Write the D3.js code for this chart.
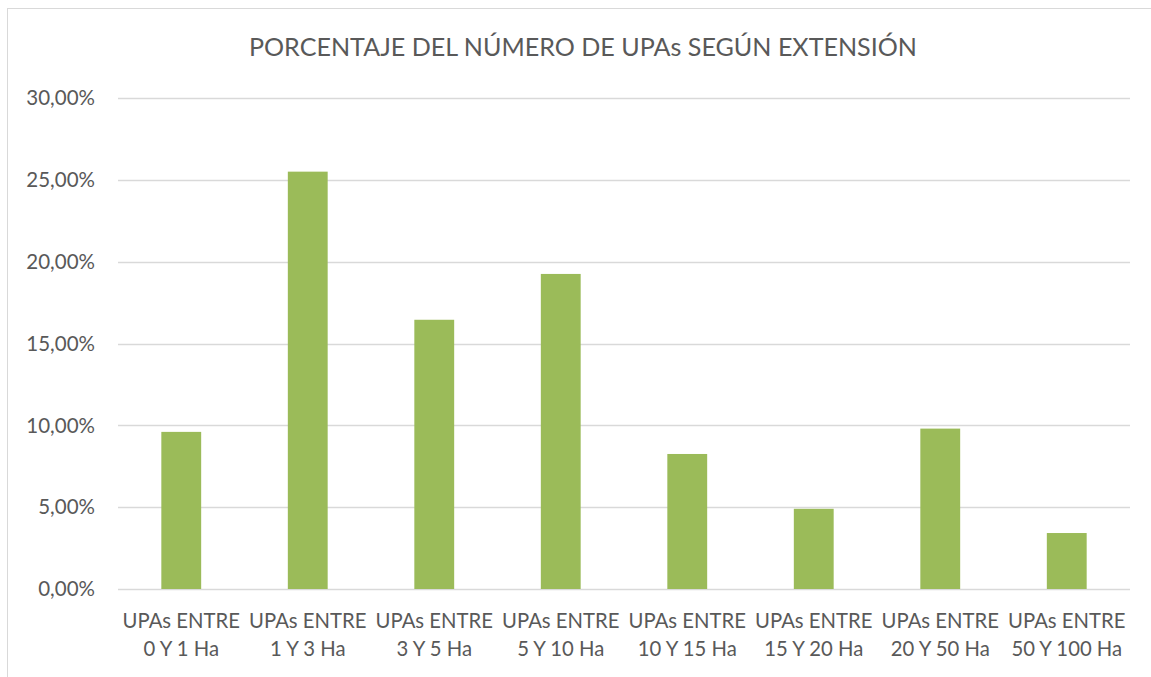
<!DOCTYPE html>
<html>
<head>
<meta charset="utf-8">
<script src="https://cdn.jsdelivr.net/npm/d3@7"></script>
<style>
  body { margin: 0; background: #fff; }
  svg text { font-family: Lato, "Open Sans", sans-serif; fill: #595959; }
</style>
</head>
<body>
<svg id="chart"></svg>
<script>
// Data
const categories = [
  ['UPAs ENTRE', '0 Y 1 Ha'],
  ['UPAs ENTRE', '1 Y 3 Ha'],
  ['UPAs ENTRE', '3 Y 5 Ha'],
  ['UPAs ENTRE', '5 Y 10 Ha'],
  ['UPAs ENTRE', '10 Y 15 Ha'],
  ['UPAs ENTRE', '15 Y 20 Ha'],
  ['UPAs ENTRE', '20 Y 50 Ha'],
  ['UPAs ENTRE', '50 Y 100 Ha']
];
const values = [9.6, 25.5, 16.45, 19.25, 8.25, 4.9, 9.8, 3.42];
const yTicks = [0, 5, 10, 15, 20, 25, 30];
const title = 'PORCENTAJE DEL NÚMERO DE UPAs SEGÚN EXTENSIÓN';

// Dimensions
const width = 1151;
const height = 677;
const margin = { top: 98, right: 21, bottom: 88, left: 118 };

const svg = d3.select('#chart')
    .attr('width', width)
    .attr('height', height);

// Chart frame
svg.append('rect')
    .attr('x', 7.5)
    .attr('y', 8.5)
    .attr('width', width + 20)
    .attr('height', height + 20)
    .attr('fill', 'none')
    .attr('stroke', '#d9d9d9')
    .attr('stroke-width', 1);

// Scales
const x = d3.scaleBand()
    .domain(d3.range(categories.length))
    .range([margin.left, width - margin.right])
    .paddingInner(0.685)
    .paddingOuter(0.3425);

const y = d3.scaleLinear()
    .domain([0, 30])
    .range([height - margin.bottom, margin.top]);

// Gridlines
svg.append('g')
    .selectAll('line')
    .data(yTicks)
    .enter()
    .append('line')
    .attr('x1', margin.left)
    .attr('x2', width - margin.right)
    .attr('y1', d => Math.round(y(d)) + 0.5)
    .attr('y2', d => Math.round(y(d)) + 0.5)
    .attr('stroke', '#d9d9d9')
    .attr('stroke-width', 1.5);

// Y axis labels
const fmt = d => d3.format('.2f')(d).replace('.', ',') + '%';
svg.append('g')
    .selectAll('text')
    .data(yTicks)
    .enter()
    .append('text')
    .attr('x', 95)
    .attr('y', d => y(d))
    .attr('dy', '0.35em')
    .attr('text-anchor', 'end')
    .style('font-size', '20.5px')
    .text(fmt);

// Bars
svg.append('g')
    .selectAll('rect')
    .data(values)
    .enter()
    .append('rect')
    .attr('x', (d, i) => x(i))
    .attr('width', x.bandwidth())
    .attr('y', d => y(d))
    .attr('height', d => y(0) - y(d))
    .attr('fill', '#9bbb59');

// X axis labels
const xLabels = svg.append('g')
    .selectAll('text')
    .data(categories)
    .enter()
    .append('text')
    .attr('text-anchor', 'middle')
    .style('font-size', '20.3px');

xLabels.append('tspan')
    .attr('x', (d, i) => x(i) + x.bandwidth() / 2)
    .attr('y', 628)
    .text(d => d[0]);

xLabels.append('tspan')
    .attr('x', (d, i) => x(i) + x.bandwidth() / 2)
    .attr('y', 656)
    .text(d => d[1]);

// Title
svg.append('text')
    .attr('x', 583)
    .attr('y', 56)
    .attr('text-anchor', 'middle')
    .style('font-size', '25.1px')
    .text(title);
</script>
</body>
</html>
